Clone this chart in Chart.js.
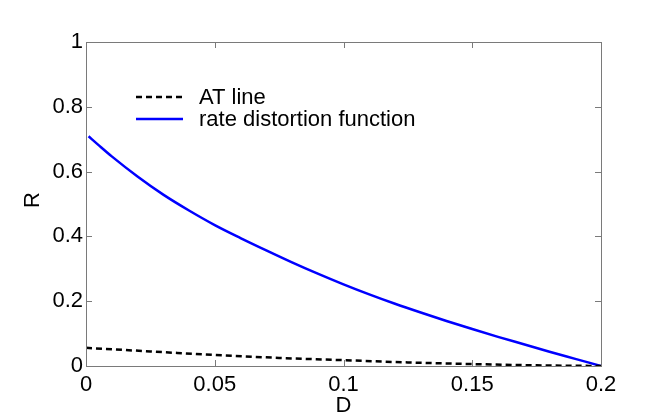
<!DOCTYPE html>
<html>
<head>
<meta charset="utf-8">
<script src="https://cdn.jsdelivr.net/npm/chart.js@4/dist/chart.umd.min.js"></script>
<style>
  html, body { margin: 0; padding: 0; background: #fff; }
  #wrap { width: 664px; height: 419px; }
</style>
</head>
<body>
<div id="wrap"><canvas id="myChart"></canvas></div>
<script>
// values
const distortion = [0.001, 0.005, 0.01, 0.02, 0.03, 0.04, 0.05, 0.06, 0.07, 0.08, 0.09, 0.10,
                    0.11, 0.12, 0.13, 0.14, 0.15, 0.16, 0.17, 0.18, 0.19, 0.20];
const rateValues = [0.709, 0.681, 0.647, 0.585, 0.529, 0.480, 0.435, 0.395, 0.357, 0.320, 0.285, 0.252,
                    0.221, 0.192, 0.165, 0.139, 0.114, 0.090, 0.067, 0.044, 0.022, 0.0];
const atD = [0, 0.025, 0.05, 0.075, 0.1, 0.125, 0.15, 0.175, 0.2];
const atValues = [0.056, 0.045, 0.034, 0.025, 0.018, 0.011, 0.006, 0.002, 0.0];
const xTicks = [0, 0.05, 0.1, 0.15, 0.2];
const yTicks = [0, 0.2, 0.4, 0.6, 0.8, 1];
const seriesNames = ['AT line', 'rate distortion function'];

const FONT = '"Liberation Sans", Arial, Helvetica, sans-serif';

// box, inward ticks, legend and axis titles in matlab style
const matlabPlot = {
    id: 'matlabPlot',
    afterDatasetsDraw(chart) {
        const c = chart.ctx;
        const a = chart.chartArea;
        const xs = chart.scales.x;
        const ys = chart.scales.y;
        c.save();
        c.strokeStyle = '#7a7a7a';
        c.lineWidth = 1;
        c.strokeRect(Math.round(a.left) + 0.5, Math.round(a.top) + 0.5,
            Math.round(a.right - a.left), Math.round(a.bottom - a.top));
        const tl = 6;
        c.beginPath();
        xTicks.forEach(v => {
            const px = Math.round(xs.getPixelForValue(v)) + 0.5;
            c.moveTo(px, a.bottom); c.lineTo(px, a.bottom - tl);
            c.moveTo(px, a.top); c.lineTo(px, a.top + tl);
        });
        yTicks.forEach(v => {
            const py = Math.round(ys.getPixelForValue(v)) + 0.5;
            c.moveTo(a.left, py); c.lineTo(a.left + tl, py);
            c.moveTo(a.right, py); c.lineTo(a.right - tl, py);
        });
        c.stroke();

        // legend
        c.font = '22px ' + FONT;
        c.textBaseline = 'middle';
        c.fillStyle = '#000';
        chart.data.datasets.forEach((ds, i) => {
            const y = 97 + i * 22;
            c.beginPath();
            c.strokeStyle = ds.borderColor;
            c.lineWidth = ds.borderWidth;
            c.setLineDash(ds.borderDash || []);
            c.moveTo(136, y); c.lineTo(183, y);
            c.stroke();
            c.setLineDash([]);
            c.fillText(ds.label, 199, y + 1);
        });

        // axis titles
        c.font = '22px ' + FONT;
        c.textAlign = 'center';
        c.fillText('D', (a.left + a.right) / 2, 406);
        c.translate(33, (a.top + a.bottom) / 2 - 4);
        c.rotate(-Math.PI / 2);
        c.fillText('R', 0, 0);
        c.restore();
    }
};

const fmt = v => String(+Number(v).toFixed(4));

const ctx = document.getElementById('myChart').getContext('2d');
new Chart(ctx, {
    type: 'scatter',
    data: {
        datasets: [
            {
                label: seriesNames[0],
                data: atD.map((d, i) => ({ x: d, y: atValues[i] })),
                showLine: true,
                borderColor: '#000000',
                borderWidth: 2.5,
                borderDash: [6, 4],
                pointRadius: 0,
                cubicInterpolationMode: 'monotone'
            },
            {
                label: seriesNames[1],
                data: distortion.map((d, i) => ({ x: d, y: rateValues[i] })),
                showLine: true,
                borderColor: '#0000ff',
                borderWidth: 2.5,
                pointRadius: 0,
                cubicInterpolationMode: 'monotone'
            }
        ]
    },
    options: {
        responsive: true,
        maintainAspectRatio: false,
        animation: false,
        layout: { padding: { left: 0, top: 42, right: 63, bottom: 0 } },
        plugins: {
            legend: { display: false },
            tooltip: { enabled: false }
        },
        scales: {
            x: {
                type: 'linear',
                min: 0,
                max: 0.2,
                afterBuildTicks: s => { s.ticks = xTicks.map(v => ({ value: v })); },
                afterFit: s => { s.height = 53; },
                grid: { display: false, drawTicks: false },
                border: { display: false },
                ticks: {
                    color: '#000',
                    padding: 6,
                    maxRotation: 0,
                    callback: fmt,
                    font: { family: FONT, size: 22 }
                }
            },
            y: {
                min: 0,
                max: 1,
                afterBuildTicks: s => { s.ticks = yTicks.map(v => ({ value: v })); },
                afterFit: s => { s.width = 86; },
                grid: { display: false, drawTicks: false },
                border: { display: false },
                ticks: {
                    color: '#000',
                    padding: 3,
                    callback: fmt,
                    font: { family: FONT, size: 22 }
                }
            }
        }
    },
    plugins: [matlabPlot]
});
</script>
</body>
</html>
